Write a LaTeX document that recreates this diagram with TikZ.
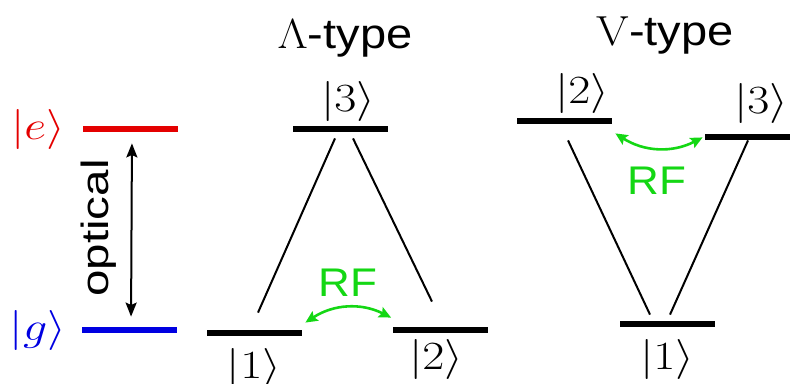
\RequirePackage{fix-cm}
\documentclass[tikz,border=0pt]{standalone}
\usepackage{fontspec}
\setsansfont{Liberation Sans}
\usetikzlibrary{arrows.meta}
\definecolor{lvred}{RGB}{228,0,0}
\definecolor{lvblue}{RGB}{0,0,225}
\definecolor{rfgreen}{RGB}{20,215,20}
\newcommand{\lvket}[1]{\scalebox{1.2}[1]{$|#1\rangle$}}
\tikzset{
    level/.style={rectangle, fill=black, inner sep=0pt, minimum width=47.5pt, minimum height=3pt},
    ket/.style={inner sep=0pt, font=\fontsize{20}{20}\selectfont},
    title/.style={inner sep=0pt, font=\sffamily\fontsize{21}{21}\selectfont},
    rflabel/.style={inner sep=0pt, text=rfgreen, font=\sffamily\fontsize{20}{20}\selectfont},
    trans/.style={line width=1pt},
    rf/.style={draw=rfgreen, line width=1.3pt, {Stealth[length=6pt,width=5.5pt,inset=1pt]}-{Stealth[length=6pt,width=5.5pt,inset=1pt]}},
    optarrow/.style={line width=1pt, {Stealth[length=7pt,width=5.5pt,inset=1.2pt]}-{Stealth[length=7pt,width=5.5pt,inset=1.2pt]}}
}

\begin{document}
\begin{tikzpicture}[x=0.5pt, y=0.5pt]
\useasboundingbox (0,0) rectangle (790,-384);

\node[level, fill=lvred] (eLev) at (130,-129) {};
\node[level, fill=lvblue] (gLev) at (129,-330) {};
\node[ket, text=lvred] (eKet) at (38,-130) {\lvket{e}};
\node[ket, text=lvblue] (gKet) at (38,-330) {\lvket{g}};
\draw[optarrow, shorten <=5.5pt, shorten >=5pt] ([xshift=1pt]eLev.south) -- ([xshift=1pt]gLev.north);
\node[inner sep=0pt, rotate=90, font=\sffamily\fontsize{19}{19}\selectfont] (optLbl) at (99,-228) {\scalebox{1.25}[1]{optical}};

\node[title] (lamTitle) at (345,-39) {\scalebox{1.12}[1]{$\Lambda$-type}};
\node[level] (lamC) at (340,-129) {};
\node[level] (lamA) at (254.5,-333) {};
\node[level] (lamB) at (440,-330) {};
\node[ket] (lamCket) at (348,-102) {\lvket{3}};
\node[ket] (lamAket) at (254,-368) {\lvket{1}};
\node[ket] (lamBket) at (436,-359) {\lvket{2}};
\draw[trans] ([shift={(-5,-6)}]lamC.south) -- ([shift={(3.5,17)}]lamA.north);
\draw[trans] ([shift={(13,-6)}]lamC.south) -- ([shift={(-8,25)}]lamB.north);
\draw[rf] ([shift={(3,7)}]lamA.north east) to[bend left=30] ([shift={(-1,9)}]lamB.north west);
\node[rflabel] (lamRF) at (348,-283) {\scalebox{1.1}[1]{RF}};

\node[title] (vTitle) at (665,-36) {\scalebox{1.12}[1]{{\rmfamily V}-type}};
\node[level] (vB) at (564.5,-121) {};
\node[level] (vC) at (752.5,-137) {};
\node[level] (vA) at (667.5,-324) {};
\node[ket] (vBket) at (582,-94) {\lvket{2}};
\node[ket] (vCket) at (761,-104) {\lvket{3}};
\node[ket] (vAket) at (667,-359) {\lvket{1}};
\draw[trans] ([shift={(3.5,-16)}]vB.south) -- ([shift={(-17.5,6)}]vA.north);
\draw[trans] ([shift={(-4.5,0)}]vC.south) -- ([shift={(2.5,6)}]vA.north);
\draw[rf] ([shift={(3,-9)}]vB.south east) to[bend right=30] ([shift={(-2,3)}]vC.south west);
\node[rflabel] (vRF) at (657,-181) {\scalebox{1.1}[1]{RF}};
\end{tikzpicture}
\end{document}
